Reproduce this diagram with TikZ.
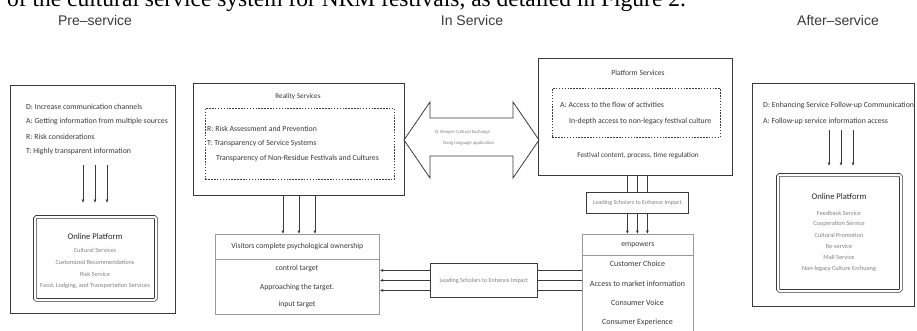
\documentclass[tikz,border=0pt]{standalone}
\usepackage{fontspec}
\setmainfont{Carlito}
\newfontfamily\phasefont{Liberation Sans}
\newfontfamily\captionserif{Liberation Serif}
\usetikzlibrary{arrows.meta}
\definecolor{framegray}{HTML}{3A3A3A}
\definecolor{textgray}{HTML}{383838}
\definecolor{softgray}{HTML}{808080}
\definecolor{linegray}{HTML}{9A9A9A}
\tikzstyle{frame}=[draw=framegray, line width=0.8pt, inner sep=0pt, anchor=north west]
\tikzstyle{softframe}=[draw=linegray, line width=0.7pt, inner sep=0pt, anchor=north west]
\tikzstyle{dashframe}=[frame, line width=0.7pt, dash pattern=on 1.5pt off 1.4pt]
\tikzstyle{platform}=[frame, double, double distance=1.8pt, line width=0.8pt, rounded corners=1.5pt]
\tikzstyle{txt}=[inner sep=0pt, text=textgray, font=\fontsize{7.8}{9}\selectfont]
\tikzstyle{titletxt}=[inner sep=0pt, text=textgray, font=\fontsize{7.2}{9}\selectfont]
\tikzstyle{subtxt}=[inner sep=0pt, text=softgray, font=\fontsize{6.3}{7.5}\selectfont]
\tikzstyle{phase}=[inner sep=0pt, text=framegray, font=\phasefont\fontsize{14}{16}\selectfont]
\tikzstyle{arr}=[draw=framegray, line width=0.8pt, -{Latex[length=3.5pt,width=3pt]}]
\tikzstyle{link}=[draw=framegray, line width=0.8pt]

\begin{document}
\begin{tikzpicture}[x=1pt, y=-1pt]
        \useasboundingbox (0,0) rectangle (917,330);
        % cut-off line of the page text above the figure
        \node[anchor=base west, inner sep=0pt, font=\captionserif\fontsize{23.5}{28}\selectfont] (caption) at (7,6) {of the cultural service system for NRM festivals, as detailed in Figure 2.};
        \node[phase] (pre-head) at (95,20) {Pre–service};
        \node[phase] (in-head) at (472,20) {In Service};
        \node[phase] (after-head) at (838,20) {After–service};

        % pre-service
        \node[frame, minimum width=165, minimum height=228] (pre) at (10,85) {};
        \foreach \t [count=\i] in {D: Increase communication channels, A: Getting information from multiple sources, R: Risk considerations, T: Highly transparent information}
            \node[txt, anchor=west] (pre-\i) at (26, 92.3+14.7*\i) {\t};
        \coordinate (pre-from) at (95,165);
        \coordinate (pre-to) at (95,203);
        \foreach \dx in {-12,0,12}
            \draw[arr] ([xshift=\dx]pre-from) -- ([xshift=\dx]pre-to);
        \node[platform, minimum width=121, minimum height=83] (pre-online) at (34.5,216.5) {};
        \node[txt, text=black!85, font=\fontsize{8.6}{10}\selectfont] (pre-online-title) at (95,237) {Online Platform};
        \foreach \t [count=\i] in {Cultural Services, Customized Recommendations, Risk Service, {Food, Lodging, and Transportation Services}}
            \node[subtxt] (pre-item-\i) at (95, 238+12*\i) {\t};

        % in service
        \node[frame, minimum width=211, minimum height=112] (reality) at (193,83) {};
        \node[titletxt] (reality-title) at (298,97) {Reality Services};
        \node[dashframe, minimum width=189, minimum height=71] (reality-inner) at (205,108) {};
        \node[txt, anchor=west] (reality-r) at (207,129) {R: Risk Assessment and Prevention};
        \node[txt, anchor=west] (reality-t) at (207,143) {T: Transparency of Service Systems};
        \node[txt, anchor=west] (reality-t2) at (216,158) {Transparency of Non-Residue Festivals and Cultures};

        \node[frame, minimum width=194, minimum height=117] (platform) at (538,58) {};
        \node[titletxt, font=\fontsize{7.6}{9}\selectfont] (platform-title) at (638,73) {Platform Services};
        \node[dashframe, minimum width=168, minimum height=49] (platform-inner) at (552,88) {};
        \node[txt, anchor=west] (platform-a) at (560,105) {A: Access to the flow of activities};
        \node[txt, anchor=west] (platform-a2) at (569,121) {In-depth access to non-legacy festival culture};
        \node[txt, font=\fontsize{7.3}{9}\selectfont] (platform-fest) at (638,156) {Festival content, process, time regulation};

        % two-way exchange
        \draw[framegray, line width=0.8pt, fill=white] (404,140) -- (430,102) -- (430,118) -- (513,118) -- (513,102) -- (539,140) -- (513,178) -- (513,156) -- (430,156) -- (430,178) -- cycle;
        \node[subtxt, anchor=west, font=\fontsize{4.75}{6}\selectfont] (exchange-d) at (435,132) {D: Deeper Cultural Exchange};
        \node[subtxt, anchor=west, font=\fontsize{4.75}{6}\selectfont] (exchange-dong) at (443,143) {Dong language application};

        \node[softframe, minimum width=164, minimum height=25, text=textgray, font=\fontsize{7.7}{9}\selectfont] (visitors-head) at (215,234) {Visitors complete psychological ownership};
        \node[softframe, minimum width=164, minimum height=55] (visitors) at (215,259) {};
        \foreach \t/\y [count=\i] in {control target/268, Approaching the target./287, input target/305}
            \node[txt, font=\fontsize{7.7}{9}\selectfont] (visitors-\i) at (297,\y) {\t};
        \foreach \dx in {-16,0,16}
            \draw[arr] ([xshift=\dx]reality.south) -- ([xshift=\dx]reality.south |- visitors-head.north);

        \node[frame, minimum width=102, minimum height=21, text=softgray, font=\fontsize{6.1}{7}\selectfont] (lead-top) at (586,192) {Leading Scholars to Enhance Impact};
        \node[softframe, minimum width=111, minimum height=21, text=textgray, font=\fontsize{7.7}{9}\selectfont] (empower-head) at (582,234) {empowers};
        \node[softframe, minimum width=111, minimum height=90] (empower) at (582,255) {};
        \foreach \t/\y [count=\i] in {Customer Choice/264, Access to market information/284, Consumer Voice/303, Consumer Experience/322}
            \node[txt, font=\fontsize{8}{9}\selectfont] (empower-\i) at (637.5,\y) {\t};
        \foreach \dx in {-10,0,10} {
            \draw[link] ([xshift=\dx]lead-top.north |- platform.south) -- ([xshift=\dx]lead-top.north);
            \draw[arr] ([xshift=\dx]lead-top.south) -- ([xshift=\dx]lead-top.south |- empower-head.north);
        }

        \node[frame, minimum width=107, minimum height=34, text=softgray, font=\fontsize{6.1}{7}\selectfont] (lead-bottom) at (430,263) {Leading Scholars to Enhance Impact};
        \foreach \dy in {10,0,-10} {
            \draw[link] ([yshift=\dy]lead-bottom.east) -- ([yshift=\dy]lead-bottom.east -| empower.west);
            \draw[arr] ([yshift=\dy]lead-bottom.west) -- ([yshift=\dy]lead-bottom.west -| visitors.east);
        }

        % after-service
        \node[frame, minimum width=162, minimum height=223] (after) at (752,83) {};
        \node[txt, anchor=west] (after-d) at (763,105) {D: Enhancing Service Follow-up Communication};
        \node[txt, anchor=west] (after-a) at (763,121) {A: Follow-up service information access};
        \coordinate (after-from) at (841,130);
        \coordinate (after-to) at (841,166);
        \foreach \dx in {-12,0,12}
            \draw[arr] ([xshift=\dx]after-from) -- ([xshift=\dx]after-to);
        \node[platform, minimum width=123, minimum height=116] (after-online) at (777.5,174.5) {};
        \node[txt, text=black!85, font=\fontsize{8.6}{10}\selectfont] (after-online-title) at (839,197) {Online Platform};
        \foreach \t [count=\i] in {Feedback Service, Cooperation Service, Cultural Promotion, Re-service, Mall Service, Non-legacy Culture Erchuang}
            \node[subtxt] (after-item-\i) at (839, 201.8+11.2*\i) {\t};
    \end{tikzpicture}
\end{document}
